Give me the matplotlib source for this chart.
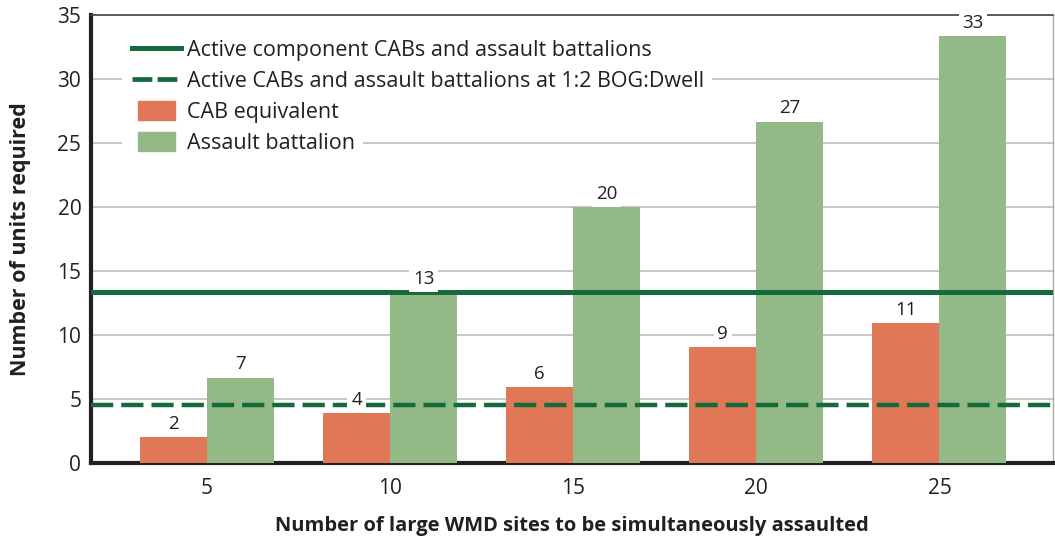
import matplotlib
matplotlib.use("Agg")
import matplotlib.pyplot as plt
import numpy as np
from matplotlib.lines import Line2D
from matplotlib.patches import Patch, Rectangle
from matplotlib.legend_handler import HandlerPatch

categories = ["5", "10", "15", "20", "25"]
cab_equivalent = [2.05, 3.9, 5.95, 9.05, 10.95]
assault_battalion = [6.67, 13.33, 20.0, 26.67, 33.33]
active_line = 13.35
bog_dwell_line = 4.55
y_ticks = [0, 5, 10, 15, 20, 25, 30, 35]

series_names = ["CAB equivalent", "Assault battalion"]
line_names = ["Active component CABs and assault battalions",
              "Active CABs and assault battalions at 1:2 BOG:Dwell"]

ORANGE = "#e07858"
GREEN = "#93ba86"
DKGREEN = "#146a3a"
TXT = "#231f20"

plt.rcParams['font.family'] = ['Open Sans', 'DejaVu Sans']

W, H = 1055, 540
fig = plt.figure(figsize=(W / 100, H / 100), dpi=100)
ax = fig.add_axes([91 / W, 1 - 463 / H, (1053 - 91) / W, (463 - 15) / H])

x = np.arange(len(categories))
bw = 0.366
b1 = ax.bar(x - bw / 2, cab_equivalent, width=bw, color=ORANGE, zorder=3)
b2 = ax.bar(x + bw / 2, assault_battalion, width=bw, color=GREEN, zorder=3)

ax.axhline(active_line, color=DKGREEN, lw=3.6, zorder=4)
ax.axhline(bog_dwell_line, color=DKGREEN, lw=3.2, dashes=(5, 1.8), zorder=4)

for bars, vals in ((b1, cab_equivalent), (b2, assault_battalion)):
    for rect, v in zip(bars, vals):
        ax.annotate(f"{round(v):d}", (rect.get_x() + rect.get_width() / 2, v),
                    xytext=(0, 3), textcoords="offset points",
                    ha="center", va="bottom", fontsize=13.5, color=TXT,
                    zorder=5,
                    bbox=dict(boxstyle="square,pad=0.2", fc="white", ec="none"))

ax.set_xlim(-0.633, 4.62)
ax.set_ylim(0, 35)
ax.set_yticks(y_ticks)
ax.set_xticks(x)
ax.set_xticklabels(categories)
ax.tick_params(axis="both", length=0, labelsize=15, colors=TXT)
ax.tick_params(axis="y", pad=7)
ax.tick_params(axis="x", pad=11)
ax.yaxis.grid(True, color="#b8b8b8", lw=1.1, zorder=0)
ax.set_axisbelow(True)

for s in ("left", "bottom"):
    ax.spines[s].set_linewidth(3)
    ax.spines[s].set_color(TXT)
ax.spines["top"].set_linewidth(1.2)
ax.spines["top"].set_color("#444444")
ax.spines["right"].set_linewidth(1.0)
ax.spines["right"].set_color("#aaaaaa")

ax.set_ylabel("Number of units required", fontsize=15.5, fontweight="bold",
              color=TXT, labelpad=19)
ax.set_xlabel("Number of large WMD sites to be simultaneously assaulted",
              fontsize=14.5, fontweight="bold", color=TXT, labelpad=12)


def inset_patch(legend, orig_handle, xdescent, ydescent, width, height, fontsize):
    inset = 4.3
    return Rectangle((-xdescent + inset, -ydescent), width - 2 * inset, height)


handles = [Line2D([], [], color=DKGREEN, lw=3.6),
           Line2D([], [], color=DKGREEN, lw=3.4, dashes=(4.2, 1.1)),
           Patch(color=ORANGE), Patch(color=GREEN)]
leg = ax.legend(handles, line_names + series_names, loc="upper left",
                bbox_to_anchor=(132 / W, 1 - 39 / H), bbox_transform=fig.transFigure,
                borderaxespad=0, fontsize=15.5, frameon=False,
                handlelength=2.28, handleheight=1.0, handletextpad=0.28,
                labelspacing=0.42, borderpad=0.0,
                handler_map={Patch: HandlerPatch(patch_func=inset_patch)})
for t in leg.get_texts():
    t.set_color(TXT)
leg.set_zorder(6)

# white backing behind each legend row (interrupts gridlines like the original)
fig.canvas.draw()
r = fig.canvas.get_renderer()
for t in leg.get_texts():
    bb = t.get_window_extent(r)
    x0 = 122
    rect = Rectangle((x0 / W, (bb.y0 - 2) / H), (bb.x1 + 8 - x0) / W, (bb.height + 4) / H,
                     transform=fig.transFigure, fc="white", ec="none", zorder=5)
    ax.add_artist(rect)
    rect.set_clip_on(False)

fig.savefig("out.png", dpi=100)
